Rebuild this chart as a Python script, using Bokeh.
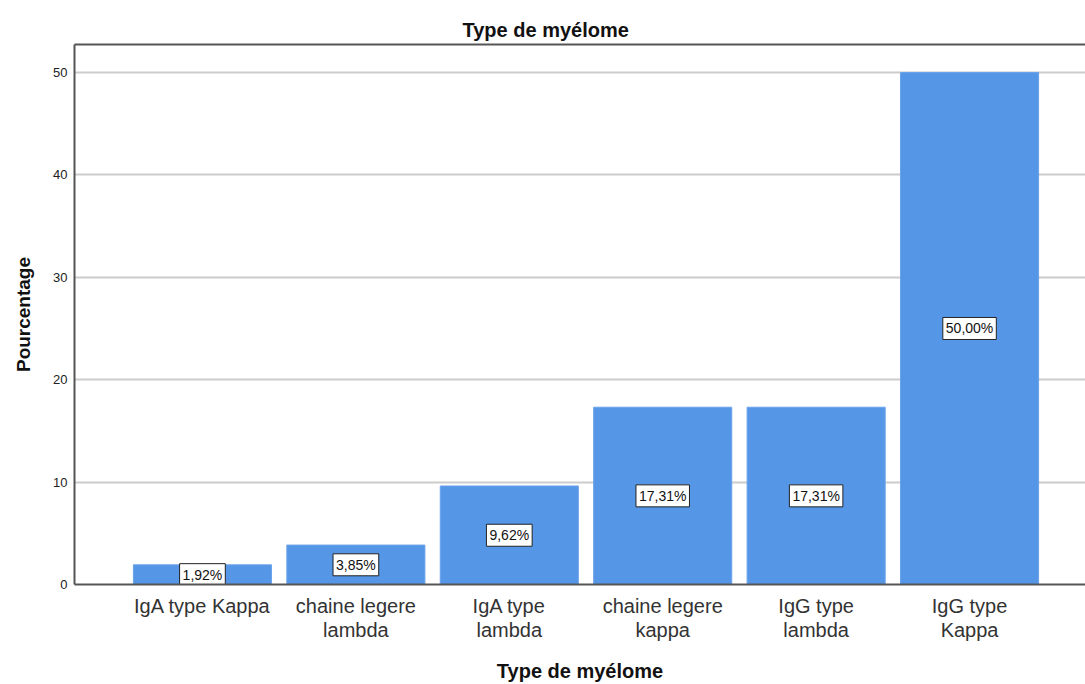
from bokeh.plotting import figure
from bokeh.models import (ColumnDataSource, Range1d, FixedTicker, LinearAxis, Title)
from bokeh.core.properties import value
from bokeh.embed import file_html
from bokeh.resources import INLINE

# ---- data ----
categories = ["IgA type Kappa", "chaine legere\nlambda", "IgA type\nlambda",
              "chaine legere\nkappa", "IgG type\nlambda", "IgG type\nKappa"]
percentages = [1.92, 3.85, 9.62, 17.31, 17.31, 50.00]
y_ticks = [0, 10, 20, 30, 40, 50]

xs = list(range(len(categories)))
labels = [("%.2f%%" % v).replace(".", ",") for v in percentages]
src = ColumnDataSource(dict(x=xs, top=percentages, mid=[v / 2 for v in percentages],
                            label=labels))

FONT = "Liberation Sans"

p = figure(width=1085, height=684, output_backend="svg", toolbar_location=None,
           x_range=Range1d(-0.834, 5.0 + (1085 - 969) / 153.5),
           y_range=Range1d(0, 52.73))
p.frame_width = 1011
p.frame_height = 540
p.min_border_left = 74
p.min_border_right = 0
p.min_border_top = 44
p.min_border_bottom = 100
p.outline_line_color = None
p.background_fill_color = "white"
p.border_fill_color = "white"

p.title = Title(text="Type de myélome", align="left", offset=388,
                text_font=FONT, text_font_size="20px", text_font_style="bold",
                text_color="#111111", standoff=8)

p.vbar(x="x", top="top", width=0.9, bottom=0, source=src,
       fill_color="#5596e6", line_color="#6aa3ea", line_width=1)

p.text(x="x", y="mid", text="label", source=src,
       text_align="center", text_baseline="middle",
       text_font=value(FONT), text_font_size="14px", text_color="#111111",
       background_fill_color="white", border_line_color="#222222",
       border_line_width=1, padding=3)

# grid
p.xgrid.visible = False
p.ygrid.ticker = FixedTicker(ticks=y_ticks)
p.ygrid.grid_line_color = "#cccccc"
p.ygrid.grid_line_width = 2

# y axis
ya = p.yaxis[0]
ya.ticker = FixedTicker(ticks=y_ticks)
ya.axis_label = "Pourcentage"
ya.axis_label_text_font = FONT
ya.axis_label_text_font_size = "19px"
ya.axis_label_text_font_style = "bold"
ya.axis_label_text_color = "#111111"
ya.axis_label_standoff = 16
ya.major_label_text_font = FONT
ya.major_label_text_font_size = "13px"
ya.major_label_text_color = "#222222"
ya.major_tick_line_color = None
ya.major_tick_out = 0
ya.major_tick_in = 0
ya.minor_tick_line_color = None
ya.minor_tick_out = 0
ya.axis_line_color = "#555555"
ya.axis_line_width = 2
ya.major_label_standoff = 7

# x axis
xa = p.xaxis[0]
xa.ticker = FixedTicker(ticks=xs)
xa.major_label_overrides = {i: c for i, c in zip(xs, categories)}
xa.major_label_text_font = FONT
xa.major_label_text_font_size = "20px"
xa.major_label_text_line_height = 1.1
xa.major_label_text_color = "#333333"
xa.major_label_standoff = 10
xa.major_tick_line_color = None
xa.major_tick_out = 0
xa.major_tick_in = 0
xa.minor_tick_line_color = None
xa.minor_tick_out = 0
xa.axis_line_color = "#555555"
xa.axis_line_width = 2
xa.axis_label = "Type de myélome"
xa.axis_label_text_font = FONT
xa.axis_label_text_font_size = "20px"
xa.axis_label_text_font_style = "bold"
xa.axis_label_text_color = "#111111"
xa.axis_label_standoff = 16

# top border
top = LinearAxis(ticker=FixedTicker(ticks=[]), major_label_text_font_size="0px",
                 major_tick_line_color=None, minor_tick_line_color=None,
                 major_tick_out=0, minor_tick_out=0, major_label_standoff=0,
                 axis_line_color="#555555", axis_line_width=2)
p.add_layout(top, "above")

open("out.html", "w").write(file_html(p, INLINE))
